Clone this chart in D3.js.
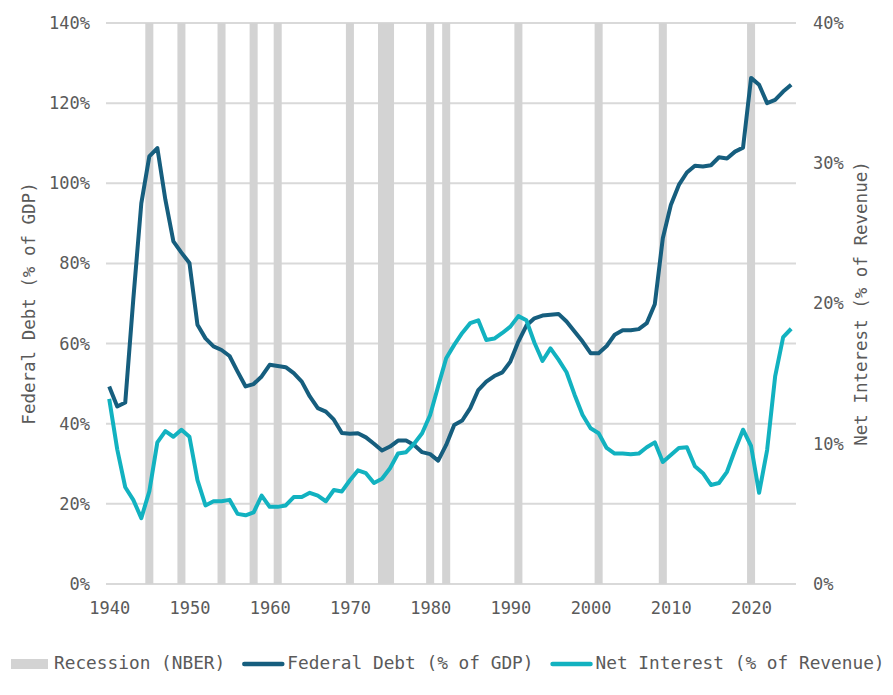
<!DOCTYPE html>
<html>
<head>
<meta charset="utf-8">
<script src="https://cdn.jsdelivr.net/npm/d3@7"></script>
<style>
  body { margin: 0; background: #fff; }
  text { font-family: "DejaVu Sans Mono", monospace; fill: #5a5a5a; }
</style>
</head>
<body>
<div id="chart"></div>
<script>
// Annual values, 1940-2025
const firstYear = 1940;
const lastYear = 2025;

const federalDebt = [
  49.3, 44.3, 45.3, 71.0, 95.0, 106.7, 108.8, 95.9, 85.5, 82.7,
  80.1, 64.7, 61.3, 59.3, 58.4, 56.9, 53.0, 49.3, 49.9, 51.8,
  54.7, 54.4, 54.1, 52.6, 50.5, 46.8, 43.9, 43.0, 41.0, 37.7,
  37.5, 37.6, 36.6, 35.0, 33.3, 34.3, 35.8, 35.8, 34.7, 32.9,
  32.4, 30.8, 34.7, 39.7, 40.8, 43.9, 48.4, 50.5, 51.9, 52.8,
  55.5, 60.5, 64.5, 66.3, 67.0, 67.2, 67.4, 65.5, 63.0, 60.5,
  57.6, 57.6, 59.4, 62.2, 63.3, 63.3, 63.6, 65.1, 69.8, 86.3,
  94.6, 99.6, 102.7, 104.4, 104.2, 104.5, 106.5, 106.2, 107.9, 108.9,
  126.3, 124.6, 120.0, 120.8, 122.9, 124.6
];

const netInterest = [
  13.2, 9.6, 6.9, 6.0, 4.7, 6.6, 10.1, 10.9, 10.5, 11.0,
  10.5, 7.4, 5.6, 5.9, 5.9, 6.0, 5.0, 4.9, 5.1, 6.3,
  5.5, 5.5, 5.6, 6.2, 6.2, 6.5, 6.3, 5.9, 6.7, 6.6,
  7.4, 8.1, 7.9, 7.2, 7.5, 8.25, 9.3, 9.4, 10.0, 10.75,
  12.05, 14.1, 16.1, 17.05, 17.9, 18.6, 18.8, 17.4, 17.5, 17.9,
  18.35, 19.1, 18.8, 17.2, 15.9, 16.8, 16.0, 15.1, 13.5, 12.05,
  11.1, 10.75, 9.7, 9.3, 9.3, 9.25, 9.3, 9.75, 10.1, 8.7,
  9.2, 9.7, 9.75, 8.4, 7.9, 7.06, 7.2, 8.0, 9.55, 11.0,
  9.84, 6.5, 9.55, 14.8, 17.6, 18.2
];

// Years flagged as NBER recession years
const recessionYears = [1945, 1949, 1954, 1958, 1961, 1970, 1974, 1975, 1980, 1982, 1991, 2001, 2009, 2020];

const xTicks = [1940, 1950, 1960, 1970, 1980, 1990, 2000, 2010, 2020];
const leftTicks = [0, 20, 40, 60, 80, 100, 120, 140];
const rightTicks = [0, 10, 20, 30, 40];

const legendItems = [
  { label: "Recession (NBER)", type: "rect", color: "#d3d3d3" },
  { label: "Federal Debt (% of GDP)", type: "line", color: "#165e7e" },
  { label: "Net Interest (% of Revenue)", type: "line", color: "#12b2c0" }
];

const width = 893;
const height = 695;
const plot = { left: 106, right: 796, top: 23, bottom: 584 };

const years = d3.range(firstYear, lastYear + 1);
const debtData = years.map((y, i) => ({ year: y, value: federalDebt[i] }));
const interestData = years.map((y, i) => ({ year: y, value: netInterest[i] }));

const svg = d3.select("#chart").append("svg")
  .attr("width", width)
  .attr("height", height);

const x = d3.scaleLinear()
  .domain([1939.6, 2025.6])
  .range([plot.left, plot.right]);

const yLeft = d3.scaleLinear()
  .domain([0, 140])
  .range([plot.bottom, plot.top]);

const yRight = d3.scaleLinear()
  .domain([0, 40])
  .range([plot.bottom, plot.top]);

// Grid lines
svg.append("g")
  .selectAll("line")
  .data(leftTicks)
  .enter().append("line")
  .attr("x1", plot.left)
  .attr("x2", plot.right)
  .attr("y1", d => yLeft(d))
  .attr("y2", d => yLeft(d))
  .attr("stroke", "#d9d9d9")
  .attr("stroke-width", 2);

// Recession bars
svg.append("g")
  .selectAll("rect")
  .data(recessionYears)
  .enter().append("rect")
  .attr("x", d => x(d - 0.5))
  .attr("width", d => x(d + 0.5) - x(d - 0.5))
  .attr("y", plot.top)
  .attr("height", plot.bottom - plot.top)
  .attr("fill", "#d3d3d3");

// Axes
const bottomAxis = svg.append("g")
  .attr("transform", `translate(0,${plot.bottom})`)
  .call(d3.axisBottom(x).tickValues(xTicks).tickFormat(d3.format("d")).tickSize(0).tickPadding(18));

const leftAxis = svg.append("g")
  .attr("transform", `translate(${plot.left},0)`)
  .call(d3.axisLeft(yLeft).tickValues(leftTicks).tickFormat(d => d + "%").tickSize(0).tickPadding(16));

const rightAxis = svg.append("g")
  .attr("transform", `translate(${plot.right},0)`)
  .call(d3.axisRight(yRight).tickValues(rightTicks).tickFormat(d => d + "%").tickSize(0).tickPadding(17));

[bottomAxis, leftAxis, rightAxis].forEach(a => {
  a.select(".domain").remove();
  a.selectAll("text")
    .attr("font-family", "DejaVu Sans Mono, monospace")
    .attr("font-size", "17px")
    .attr("fill", "#5a5a5a");
});

// Axis titles
svg.append("text")
  .attr("transform", `translate(30,${(plot.top + plot.bottom) / 2}) rotate(-90)`)
  .attr("text-anchor", "middle")
  .attr("dominant-baseline", "middle")
  .attr("font-size", "17.5px")
  .text("Federal Debt (% of GDP)");

svg.append("text")
  .attr("transform", `translate(862,${(plot.top + plot.bottom) / 2}) rotate(-90)`)
  .attr("text-anchor", "middle")
  .attr("dominant-baseline", "middle")
  .attr("font-size", "17.5px")
  .text("Net Interest (% of Revenue)");

// Lines
const lineDebt = d3.line().x(d => x(d.year)).y(d => yLeft(d.value));
const lineInterest = d3.line().x(d => x(d.year)).y(d => yRight(d.value));

svg.append("path")
  .datum(debtData)
  .attr("fill", "none")
  .attr("stroke", "#165e7e")
  .attr("stroke-width", 4)
  .attr("stroke-linejoin", "round")
  .attr("d", lineDebt);

svg.append("path")
  .datum(interestData)
  .attr("fill", "none")
  .attr("stroke", "#12b2c0")
  .attr("stroke-width", 4)
  .attr("stroke-linejoin", "round")
  .attr("d", lineInterest);

// Legend
const legend = svg.append("g");
let lx = 11;
const ly = 664;
legendItems.forEach(item => {
  const g = legend.append("g");
  let textX;
  if (item.type === "rect") {
    g.append("rect")
      .attr("x", lx)
      .attr("y", ly - 5)
      .attr("width", 37)
      .attr("height", 10)
      .attr("fill", item.color);
    textX = lx + 43;
  } else {
    g.append("line")
      .attr("x1", lx + 2)
      .attr("x2", lx + 40)
      .attr("y1", ly)
      .attr("y2", ly)
      .attr("stroke", item.color)
      .attr("stroke-width", 4.5)
      .attr("stroke-linecap", "round");
    textX = lx + 45;
  }
  const t = g.append("text")
    .attr("x", textX)
    .attr("y", ly)
    .attr("dominant-baseline", "middle")
    .attr("font-size", "17.8px")
    .text(item.label);
  lx = textX + t.node().getComputedTextLength() + 17;
});
</script>
</body>
</html>
